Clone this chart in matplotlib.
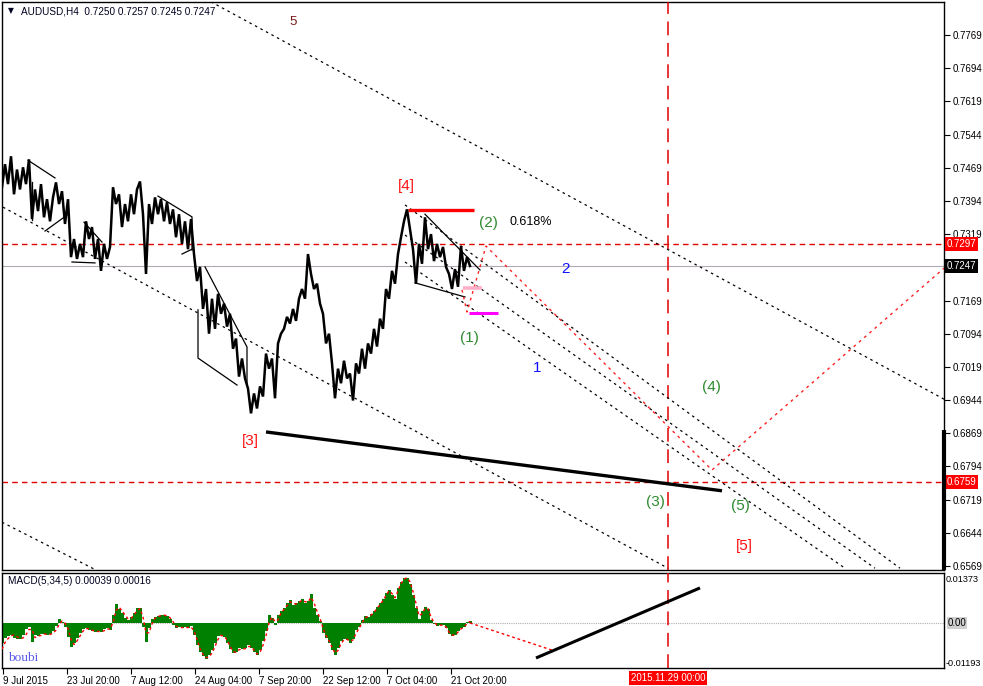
import matplotlib
matplotlib.use("Agg")
import matplotlib.pyplot as plt
import matplotlib.transforms as mtransforms

# ---------------- data ----------------
# bar positions (H4 bars, sampled every 3 bars)
bar_x = list(range(2, 471, 3))
price = [0.7425, 0.7477, 0.7432, 0.7495, 0.7409, 0.7465, 0.7420, 0.7470, 0.7432, 0.7488,
         0.7353, 0.7420, 0.7371, 0.7432, 0.7357, 0.7398, 0.7348, 0.7402, 0.7436, 0.7387,
         0.7416, 0.7342, 0.7398, 0.7267, 0.7308, 0.7263, 0.7297, 0.7267, 0.7348, 0.7308,
         0.7335, 0.7263, 0.7308, 0.7236, 0.7297, 0.7263, 0.7290, 0.7425, 0.7387, 0.7409,
         0.7335, 0.7387, 0.7348, 0.7409, 0.7364, 0.7420, 0.7438, 0.7364, 0.7229, 0.7387,
         0.7342, 0.7402, 0.7364, 0.7398, 0.7348, 0.7391, 0.7342, 0.7375, 0.7312, 0.7364,
         0.7297, 0.7348, 0.7285, 0.7353, 0.7274, 0.7213, 0.7245, 0.7150, 0.7195, 0.7094,
         0.7173, 0.7105, 0.7184, 0.7139, 0.7162, 0.7110, 0.7139, 0.7060, 0.7083, 0.6997,
         0.7038, 0.6993, 0.6970, 0.6914, 0.6959, 0.6925, 0.6975, 0.6952, 0.7049, 0.7015,
         0.7038, 0.6948, 0.7072, 0.7094, 0.7105, 0.7132, 0.7117, 0.7150, 0.7123, 0.7173,
         0.7195, 0.7173, 0.7274, 0.7229, 0.7195, 0.7207, 0.7162, 0.7139, 0.7072, 0.7094,
         0.7027, 0.6948, 0.7015, 0.6982, 0.7033, 0.6993, 0.7004, 0.6943, 0.7027, 0.7004,
         0.7060, 0.7015, 0.7072, 0.7049, 0.7105, 0.7065, 0.7128, 0.7105, 0.7195, 0.7173,
         0.7236, 0.7207, 0.7274, 0.7312, 0.7348, 0.7375, 0.7330, 0.7285, 0.7207, 0.7297,
         0.7252, 0.7357, 0.7285, 0.7319, 0.7258, 0.7297, 0.7267, 0.7290, 0.7245, 0.7229,
         0.7195, 0.7240, 0.7200, 0.7292, 0.7236, 0.7267, 0.7247]

macd = [-0.0060, -0.0045, -0.0039, -0.0036, -0.0045, -0.0048, -0.0048, -0.0036, -0.0018, -0.0012,
        -0.0057, -0.0036, -0.0039, -0.0033, -0.0033, -0.0036, -0.0033, -0.0024, -0.0009, 0.0012,
        0.0003, -0.0012, -0.0042, -0.0072, -0.0060, -0.0045, -0.0030, -0.0018, -0.0015, -0.0021,
        -0.0024, -0.0027, -0.0024, -0.0027, -0.0018, -0.0015, -0.0021, 0.0024, 0.0057, 0.0042,
        0.0030, 0.0015, 0.0009, 0.0018, 0.0030, 0.0045, 0.0045, -0.0012, -0.0057, -0.0015,
        0.0012, 0.0018, 0.0021, 0.0024, 0.0024, 0.0021, 0.0012, -0.0006, -0.0015, -0.0012,
        -0.0015, -0.0012, -0.0015, -0.0009, -0.0036, -0.0066, -0.0090, -0.0102, -0.0111, -0.0099,
        -0.0084, -0.0060, -0.0039, -0.0036, -0.0042, -0.0060, -0.0081, -0.0093, -0.0090, -0.0075,
        -0.0081, -0.0078, -0.0066, -0.0075, -0.0090, -0.0099, -0.0084, -0.0054, -0.0024, 0.0024,
        0.0015, -0.0006, 0.0024, 0.0036, 0.0045, 0.0060, 0.0069, 0.0054, 0.0060, 0.0066,
        0.0072, 0.0060, 0.0066, 0.0087, 0.0045, 0.0024, 0.0006, -0.0030, -0.0045, -0.0060,
        -0.0084, -0.0099, -0.0075, -0.0054, -0.0048, -0.0051, -0.0060, -0.0048, -0.0021, -0.0012,
        0.0009, 0.0021, 0.0018, 0.0027, 0.0036, 0.0048, 0.0060, 0.0072, 0.0090, 0.0102,
        0.0084, 0.0072, 0.0108, 0.0126, 0.0138, 0.0138, 0.0120, 0.0084, 0.0045, 0.0012,
        0.0036, 0.0048, 0.0042, 0.0009, -0.0003, -0.0009, -0.0006, -0.0006, -0.0015, -0.0033,
        -0.0039, -0.0036, -0.0024, -0.0015, -0.0012, 0.0003, 0.0006]

signal = [-0.0080, -0.0060, -0.0048, -0.0039, -0.0037, -0.0042, -0.0047, -0.0046, -0.0036, -0.0020,
          -0.0020, -0.0045, -0.0040, -0.0038, -0.0034, -0.0034, -0.0035, -0.0032, -0.0022, -0.0006,
          0.0006, 0.0000, -0.0018, -0.0050, -0.0066, -0.0055, -0.0040, -0.0025, -0.0017, -0.0018,
          -0.0022, -0.0025, -0.0026, -0.0026, -0.0024, -0.0018, -0.0019, 0.0000, 0.0038, 0.0048,
          0.0038, 0.0024, 0.0013, 0.0014, 0.0024, 0.0037, 0.0044, 0.0018, -0.0030, -0.0030,
          -0.0003, 0.0014, 0.0020, 0.0022, 0.0024, 0.0022, 0.0016, 0.0004, -0.0010, -0.0013,
          -0.0014, -0.0013, -0.0014, -0.0012, -0.0024, -0.0050, -0.0078, -0.0096, -0.0106, -0.0104,
          -0.0092, -0.0072, -0.0050, -0.0038, -0.0040, -0.0051, -0.0071, -0.0087, -0.0090, -0.0082,
          -0.0079, -0.0079, -0.0072, -0.0072, -0.0083, -0.0095, -0.0090, -0.0068, -0.0039, 0.0000,
          0.0018, 0.0004, 0.0010, 0.0030, 0.0041, 0.0053, 0.0065, 0.0060, 0.0058, 0.0063,
          0.0069, 0.0065, 0.0064, 0.0078, 0.0062, 0.0036, 0.0014, -0.0016, -0.0038, -0.0054,
          -0.0074, -0.0092, -0.0084, -0.0064, -0.0051, -0.0050, -0.0056, -0.0052, -0.0032, -0.0017,
          0.0000, 0.0016, 0.0019, 0.0024, 0.0032, 0.0044, 0.0056, 0.0068, 0.0084, 0.0098,
          0.0090, 0.0077, 0.0098, 0.0120, 0.0134, 0.0138, 0.0126, 0.0096, 0.0060, 0.0022,
          0.0028, 0.0044, 0.0044, 0.0018, 0.0002, -0.0006, -0.0007, -0.0006, -0.0012, -0.0028,
          -0.0037, -0.0037, -0.0028, -0.0018, -0.0013, -0.0002, 0.0005]

price_ticks = [0.7769, 0.7694, 0.7619, 0.7544, 0.7469, 0.7394, 0.7319, 0.7169, 0.7094,
               0.7019, 0.6944, 0.6869, 0.6794, 0.6719, 0.6644, 0.6569]
time_tick_x = [3, 67, 131, 195, 259, 323, 387, 451]
time_tick_labels = ["9 Jul 2015", "23 Jul 20:00", "7 Aug 12:00", "24 Aug 04:00",
                    "7 Sep 20:00", "22 Sep 12:00", "7 Oct 04:00", "21 Oct 20:00"]
vline_x = 668
vline_label = "2015.11.29 00:00"
level_red_hi = 0.7297
level_bid = 0.7247
level_red_lo = 0.6759

# drawn objects (bar position, price)
dotted_lines = [
    [(211, 0.7844), (944, 0.6946)],
    [(3, 0.7380), (668, 0.6564)],
    [(2, 0.6668), (96, 0.6560)],
    [(405, 0.7385), (900, 0.6564)],
    [(405, 0.7317), (875, 0.6564)],
    [(405, 0.7256), (845, 0.6564)],
]
thin_lines = [
    [(28, 0.7486), (55, 0.7446)],
    [(32, 0.7437), (32, 0.7351)],
    [(45, 0.7326), (67, 0.7362)],
    [(72, 0.7256), (95, 0.7254)],
    [(84, 0.7346), (102, 0.7301)],
    [(158, 0.7405), (192, 0.7358), (192, 0.7283)],
    [(182, 0.7274), (192, 0.7285)],
    [(205, 0.7245), (247, 0.7064), (247, 0.6978)],
    [(198, 0.7148), (198, 0.7039), (237, 0.6978)],
    [(425, 0.7364), (480, 0.7238)],
    [(415, 0.7209), (465, 0.7177)],
]
red_path = [(462, 0.7193), (467, 0.7143), (486, 0.7292), (712, 0.6786), (944, 0.7242)]
thick_main = [(266, 0.6872), (722, 0.6739)]
red_top = [(408, 0.7374), (474, 0.7374)]
pink_seg = [(463, 0.7197), (482, 0.7197)]
magenta_seg = [(469, 0.7141), (498, 0.7141)]
macd_red_proj = [(470, 0.0000), (553, -0.0084)]
macd_thick = [(536, -0.0107), (700, 0.0107)]

red_labels = [("[4]", 406, 0.7428), ("[3]", 250, 0.6851), ("[5]", 744, 0.6614)]
green_labels = [("(2)", 488, 0.7344), ("(1)", 469, 0.7084), ("(4)", 711, 0.6974),
                ("(3)", 655, 0.6714), ("(5)", 740, 0.6705)]
blue_labels = [("2", 566, 0.7240), ("1", 537, 0.7016)]

# ---------------- figure ----------------
W, H = 983, 686
fig = plt.figure(figsize=(W / 100, H / 100), dpi=100, facecolor="white")
ax = fig.add_axes([2 / W, (H - 570) / H, 942 / W, 568 / H])
ax2 = fig.add_axes([2 / W, (H - 668) / H, 942 / W, 95 / H])

FONT = ["Liberation Sans", "DejaVu Sans"]
XMIN, XMAX = 2, 944
ax.set_xlim(XMIN, XMAX)
ax.set_ylim(0.6560, 0.78436)
ax2.set_xlim(XMIN, XMAX)
ax2.set_ylim(-0.01376, 0.01526)

for a in (ax, ax2):
    for s in a.spines.values():
        s.set_color("black")
        s.set_linewidth(1.0)

# price bars
ax.plot(bar_x, price, color="black", lw=1.8, solid_joinstyle="miter", zorder=5)

# horizontal levels
ax.axhline(level_red_hi, color="#e00000", lw=1.0, ls=(0, (4, 3)), zorder=2)
ax.axhline(level_bid, color="#b4a8b4", lw=0.8, zorder=2)
ax.axhline(level_red_lo, color="#e00000", lw=1.0, ls=(0, (4, 3)), zorder=2)

# vertical date line
for a in (ax, ax2):
    a.axvline(vline_x, color="#e00000", lw=1.1, ls=(0, (9, 5)), zorder=3)

for seg in dotted_lines:
    xs, ys = zip(*seg)
    ax.plot(xs, ys, color="black", lw=0.9, ls=(0, (2, 3)), zorder=3)
for seg in thin_lines:
    xs, ys = zip(*seg)
    ax.plot(xs, ys, color="black", lw=0.9, zorder=4)

xs, ys = zip(*red_path)
ax.plot(xs, ys, color="#ff2020", lw=1.0, ls=(0, (2, 3)), zorder=4)
xs, ys = zip(*thick_main)
ax.plot(xs, ys, color="black", lw=2.4, zorder=4, solid_capstyle="butt")
xs, ys = zip(*red_top)
ax.plot(xs, ys, color="#ff0000", lw=2.4, zorder=4, solid_capstyle="butt")
xs, ys = zip(*pink_seg)
ax.plot(xs, ys, color="#ffb0c8", lw=2.6, zorder=4, solid_capstyle="butt")
xs, ys = zip(*magenta_seg)
ax.plot(xs, ys, color="#ff00ff", lw=2.2, zorder=4, solid_capstyle="butt")

# wave labels
for t, x, y in red_labels:
    ax.text(x, y, t, color="#ff1010", fontsize=11, ha="center", va="center", family=FONT)
for t, x, y in green_labels:
    ax.text(x, y, t, color="#2e8b2e", fontsize=11, ha="center", va="center", family=FONT)
for t, x, y in blue_labels:
    ax.text(x, y, t, color="#1010ff", fontsize=11, ha="center", va="center", family=FONT)
ax.text(293, 0.7798, "5", color="#7a1818", fontsize=9.5, ha="center", va="center", family=FONT)
ax.text(531, 0.7346, "0.618%", color="black", fontsize=9, ha="center", va="center", family=FONT)

# header
ax.text(6 / 942, 1 - 9 / 568, "\u25bc", transform=ax.transAxes, fontsize=5.5,
        ha="left", va="center", family=["DejaVu Sans"], color="#000020")
ax.text(19 / 942, 1 - 9 / 568, "AUDUSD,H4  0.7250 0.7257 0.7245 0.7247", transform=ax.transAxes,
        fontsize=7.2, ha="left", va="center", family=FONT, color="#000020")

# right price axis
ax.yaxis.tick_right()
ax.set_yticks(price_ticks)
ax.set_yticklabels([f"{v:.4f}" for v in price_ticks])
ax.tick_params(axis="y", length=4, width=0.8, labelsize=7, pad=2, colors="black")
for lbl in ax.get_yticklabels():
    lbl.set_family(FONT)
ax.set_xticks([])

bt = mtransforms.blended_transform_factory(ax.transAxes, ax.transData)
for val, bg in [(level_red_hi, "#ff0000"), (level_bid, "black"), (level_red_lo, "#ff0000")]:
    ax.text(1.003, val, f"{val:.4f}", transform=bt, fontsize=7, color="white", ha="left",
            va="center", family=FONT, clip_on=False,
            bbox=dict(boxstyle="square,pad=0.18", fc=bg, ec="none"))
# thick bar on the right border
ax.plot([1.0, 1.0], [0.0, 140 / 568], transform=ax.transAxes, color="black", lw=3,
        clip_on=False, solid_capstyle="butt", zorder=6)

# ---------------- MACD panel ----------------
ax2.axhline(0, color="#b0b0b0", lw=0.8, ls=(0, (1, 1)), zorder=1)
ax2.bar(bar_x, macd, width=3.0, color="#008000", linewidth=0, zorder=2)
ax2.plot(bar_x, signal, color="#ff0000", lw=1.0, ls=(0, (2, 2)), zorder=3)
xs, ys = zip(*macd_red_proj)
ax2.plot(xs, ys, color="#ff0000", lw=1.0, ls=(0, (2, 2)), zorder=3)
xs, ys = zip(*macd_thick)
ax2.plot(xs, ys, color="black", lw=2.2, zorder=4, solid_capstyle="butt")

ax2.text(6 / 942, 1 - 8 / 95, "MACD(5,34,5) 0.00039 0.00016", transform=ax2.transAxes,
         fontsize=7.2, ha="left", va="center", family=FONT, color="#000020")
ax2.text(6 / 942, 10 / 95, "boubi", transform=ax2.transAxes, fontsize=9.5, ha="left",
         va="center", family=["Liberation Serif", "DejaVu Serif"], color="#5a5ae8")

ax2.yaxis.tick_right()
macd_ticks = [0.01373, 0.0, -0.01193]
ax2.set_yticks(macd_ticks)
ax2.set_yticklabels(["0.01373", "", "-0.01193"])
ax2.tick_params(axis="y", length=0, labelsize=6.6, pad=1.5)
for lbl in ax2.get_yticklabels():
    lbl.set_family(FONT)
bt2 = mtransforms.blended_transform_factory(ax2.transAxes, ax2.transData)
ax2.text(1.004, 0.0, "0.00", transform=bt2, fontsize=7, color="black", ha="left", va="center",
         family=FONT, clip_on=False, bbox=dict(boxstyle="square,pad=0.1", fc="#d0d0d0", ec="none"))

ax2.set_xticks(time_tick_x)
ax2.set_xticklabels(time_tick_labels)
ax2.tick_params(axis="x", length=4, width=0.8, labelsize=7, pad=2)
for lbl in ax2.get_xticklabels():
    lbl.set_ha("left")
    lbl.set_family(FONT)

bx = mtransforms.blended_transform_factory(ax2.transData, ax2.transAxes)
ax2.text(vline_x, -0.055, vline_label, transform=bx, fontsize=7, color="white", ha="center",
         va="top", family=FONT, clip_on=False,
         bbox=dict(boxstyle="square,pad=0.18", fc="#ff0000", ec="none"))

fig.savefig("out.png", dpi=100, facecolor="white")
